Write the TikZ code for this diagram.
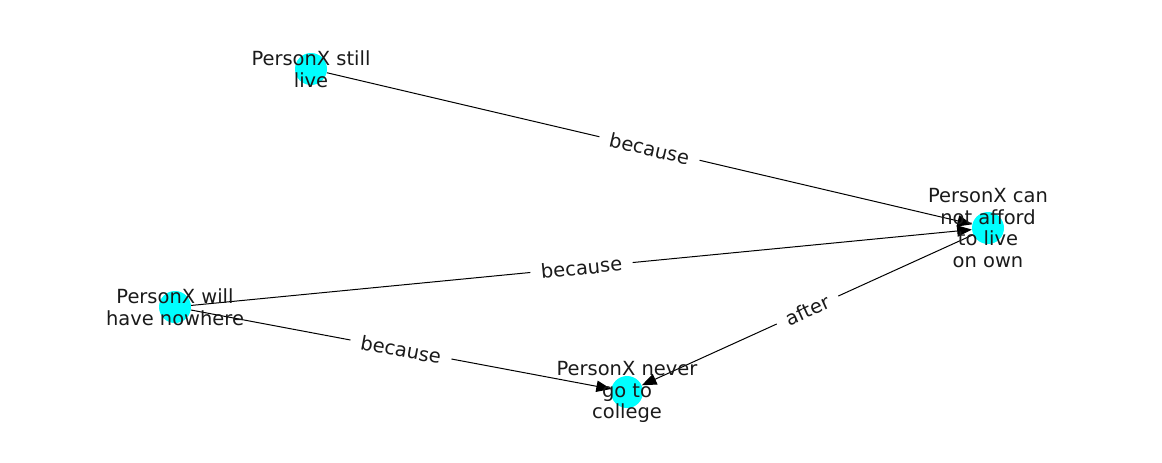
\documentclass[tikz,border=0pt]{standalone}
\usepackage{fontspec}
\setmainfont{DejaVu Sans}
\usetikzlibrary{arrows.meta,backgrounds}
\definecolor{nodecyan}{RGB}{0,255,255}
\definecolor{inkgray}{RGB}{26,26,26}
\begin{document}
\begin{tikzpicture}[x=0.75pt,y=-0.75pt,
  dot/.style={circle, fill=nodecyan, minimum size=24pt, inner sep=0pt},
  txt/.style={align=center, font=\fontsize{14.6}{16.3}\selectfont, text=inkgray},
  edge/.style={-{Triangle[length=11pt,width=8.5pt]}, line width=0.75pt, draw=black},
  elabel/.style={sloped, fill=white, inner xsep=8pt, inner ysep=3pt, text=inkgray, font=\fontsize{14.6}{16}\selectfont}]
\useasboundingbox (0,0) rectangle (1162,462);
\node[dot] (A) at (311,69) {};
\node[dot] (B) at (988,228) {};
\node[dot] (C) at (175,307) {};
\node[dot] (D) at (627,392) {};
\begin{scope}[on background layer]
\draw[edge] (A) -- node[elabel] (lab1) {because} (B);
\draw[edge] (C) -- node[elabel] (lab2) {because} (B);
\draw[edge] (C) -- node[elabel] (lab3) {because} (D);
\draw[edge] (B) -- node[elabel] (lab4) {after} (D);
\end{scope}
\node[txt] (tA) at (A) {PersonX still\\live};
\node[txt] (tB) at (B) {PersonX can\\not afford\\to live\\on own};
\node[txt] (tC) at (C) {PersonX will\\have nowhere};
\node[txt] (tD) at (D) {PersonX never\\go to\\college};
\end{tikzpicture}
\end{document}
